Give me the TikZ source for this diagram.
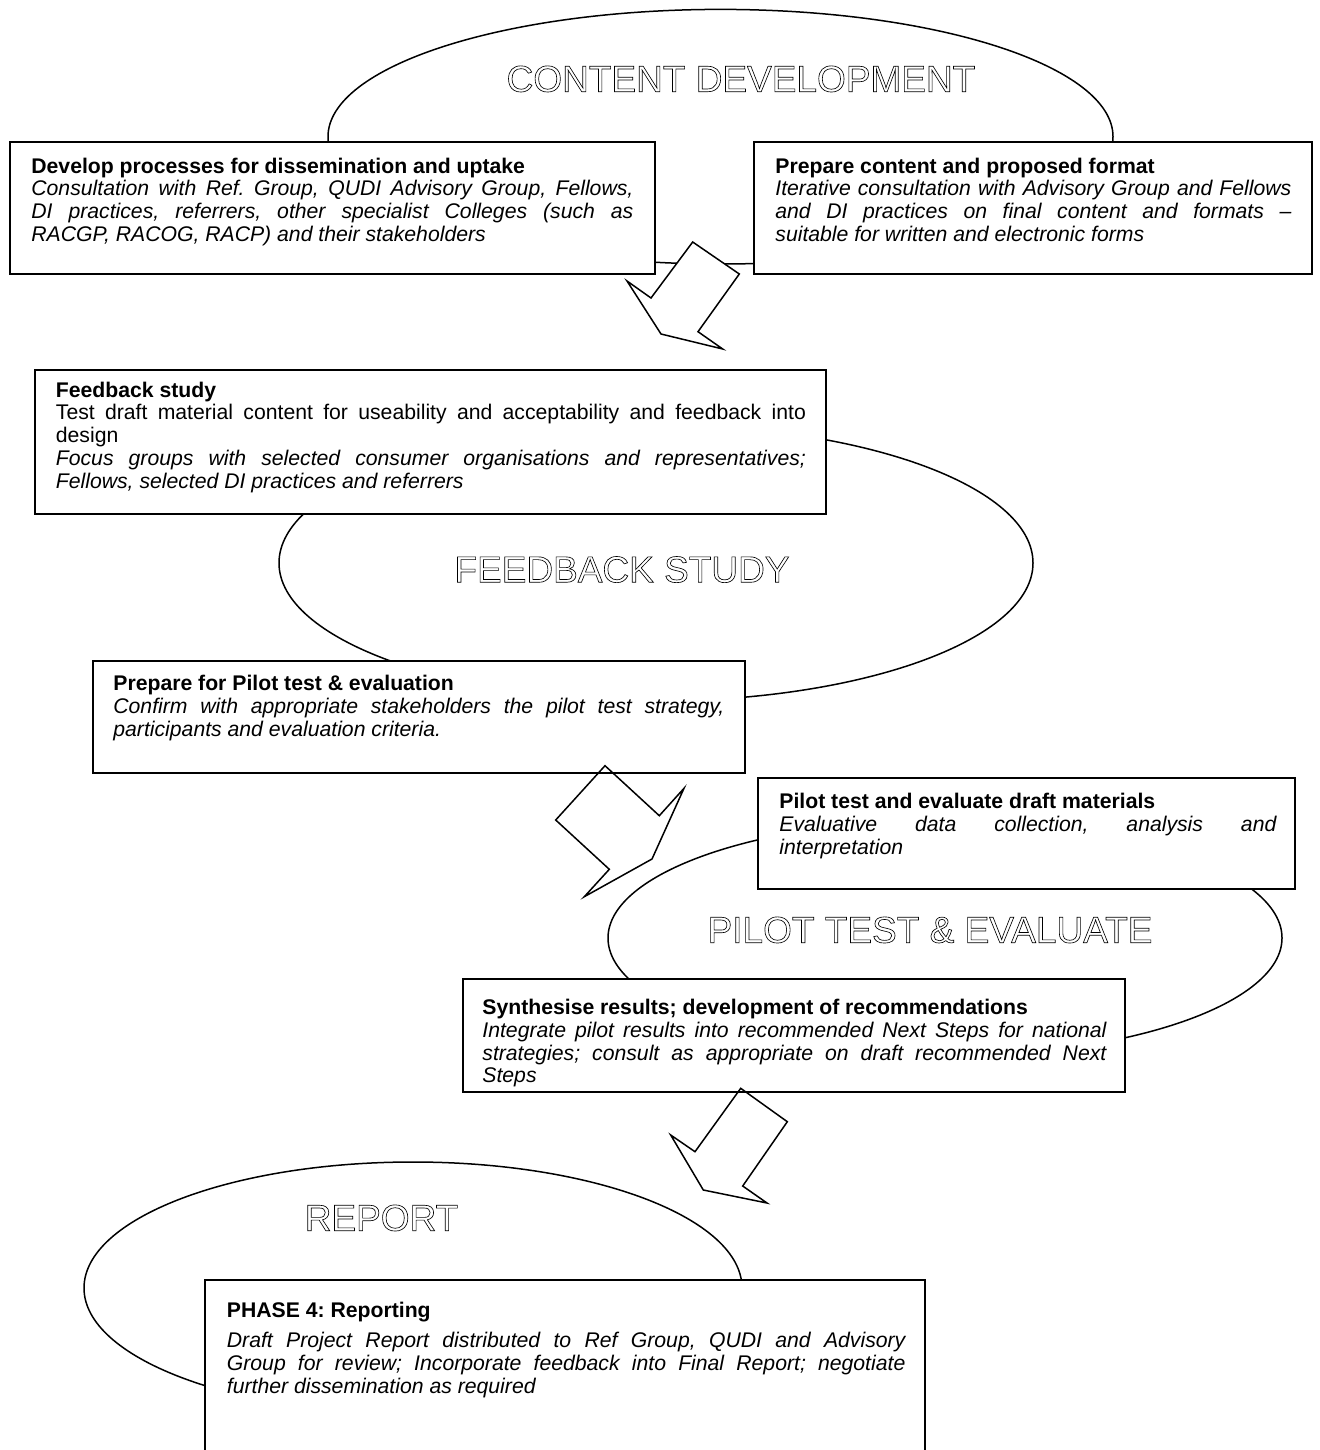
\documentclass[tikz,border=0pt]{standalone}
\usepackage{fontspec}
\setmainfont{Liberation Sans}
\usetikzlibrary{shapes.geometric,fit}
\newcommand{\bodyfnt}{\fontsize{10.6pt}{11.4pt}\selectfont}
\newcommand{\ttlfnt}{\fontsize{18.5pt}{20pt}\selectfont}
\newcommand{\outl}[1]{\special{pdf:literal direct 1 Tr 0.32 w}#1\special{pdf:literal direct 0 Tr}}
\newcommand{\fs}{\rule{0pt}{9pt}}
\hbadness=10000
\tolerance=10000
\frenchspacing
\begin{document}
\begin{tikzpicture}[x=0.5pt,y=-0.5pt,
  box/.style={draw, line width=1pt, fill=white, inner sep=0pt},
  oval/.style={draw, ellipse, line width=0.75pt, inner sep=0pt},
  txt/.style={anchor=north west, inner sep=0pt, align=justify, font=\bodyfnt},
  ttl/.style={anchor=base, inner sep=0pt, font=\ttlfnt},
  blockarrow/.style={draw, line width=0.75pt, line join=miter}
]
\useasboundingbox[fill=white] (0,0) rectangle (1320,1450);

% ellipses
\node[oval, minimum width=392.5pt, minimum height=127.3pt] (e1) at (720.5,136.7) {};
\node[oval, minimum width=377pt, minimum height=138pt] (e2) at (656,563) {};
\node[oval, minimum width=337pt, minimum height=118pt] (e3) at (945,938) {};
\node[oval, minimum width=329pt, minimum height=126pt] (e4) at (413,1288) {};

% boxes
\node[box, fit={(10,142) (655,274)}] (bA) {};
\node[box, fit={(754,142) (1312,274)}] (bB) {};
\node[box, fit={(35,370) (826,514)}] (bC) {};
\node[box, fit={(93,661) (745,773)}] (bD) {};
\node[box, fit={(758,778) (1295,889)}] (bE) {};
\node[box, fit={(463,979) (1125,1092)}] (bF) {};
\node[box, fit={(205,1280) (925,1480)}] (bG) {};

% titles
\node[ttl] (t1) at (741,91.7) {\outl{CONTENT DEVELOPMENT}};
\node[ttl] (t2) at (622,582.3) {\outl{FEEDBACK STUDY}};
\node[ttl] (t3) at (930,942.7) {\outl{PILOT TEST \& EVALUATE}};
\node[ttl] (t4) at (381.5,1230.7) {\outl{REPORT}};

% texts
\node[txt, text width=301pt] (tA) at (31,154.7) {\fs\textbf{Develop processes for dissemination and uptake}\\
\textit{Consultation with Ref. Group, QUDI Advisory Group, Fellows,\linebreak DI practices, referrers, other specialist Colleges (such as\linebreak RACGP, RACOG, RACP) and their stakeholders}};

\node[txt, text width=258pt] (tB) at (775,154.7) {\fs\textbf{Prepare content and proposed format}\\
\textit{Iterative consultation with Advisory Group and Fellows\linebreak and DI practices on final content and formats –\linebreak suitable for written and electronic forms}};

\node[txt, text width=375pt] (tC) at (55.5,378.7) {\fs\textbf{Feedback study}\\
Test draft material content for useability and acceptability and feedback into\linebreak design\\
\textit{Focus groups with selected consumer organisations and representatives;\linebreak Fellows, selected DI practices and referrers}};

\node[txt, text width=305.5pt] (tD) at (113,672) {\fs\textbf{Prepare for Pilot test \& evaluation}\\
\textit{Confirm with appropriate stakeholders the pilot test strategy,\linebreak participants and evaluation criteria.}};

\node[txt, text width=248.5pt] (tE) at (779,790) {\fs\textbf{Pilot test and evaluate draft materials}\\
\textit{Evaluative data collection, analysis and\linebreak interpretation}};

\begin{scope}
\clip (463,979) rectangle (1125,1089);
\node[txt, text width=312pt] (tF) at (482,996) {\fs\textbf{Synthesise results; development of recommendations}\\
\textit{Integrate pilot results into recommended Next Steps for national\linebreak strategies; consult as appropriate on draft recommended Next\linebreak Steps}};
\end{scope}

\node[txt, text width=339.25pt] (tG) at (226.5,1298.7) {\fs\textbf{PHASE 4: Reporting}\\[3.8pt]
\textit{Draft Project Report distributed to Ref Group, QUDI and Advisory\linebreak Group for review; Incorporate feedback into Final Report; negotiate\linebreak further dissemination as required}};

% block arrows
\draw[blockarrow, fill=white] (692.7,242) -- (651,298) -- (627,281) -- (661,334) -- (722.7,349) -- (698,331.7) -- (739.3,274) -- cycle;
\draw[blockarrow] (605,765.7) -- (659.3,815.7) -- (684,788.3) -- (652,859) -- (584.3,896.7) -- (609.3,869.3) -- (555.7,820) -- cycle;
\draw[blockarrow] (740.7,1088.3) -- (787.3,1121.7) -- (742.7,1186) -- (767,1203) -- (703.3,1190) -- (670.7,1135) -- (695,1151.7) -- cycle;
\end{tikzpicture}
\end{document}
